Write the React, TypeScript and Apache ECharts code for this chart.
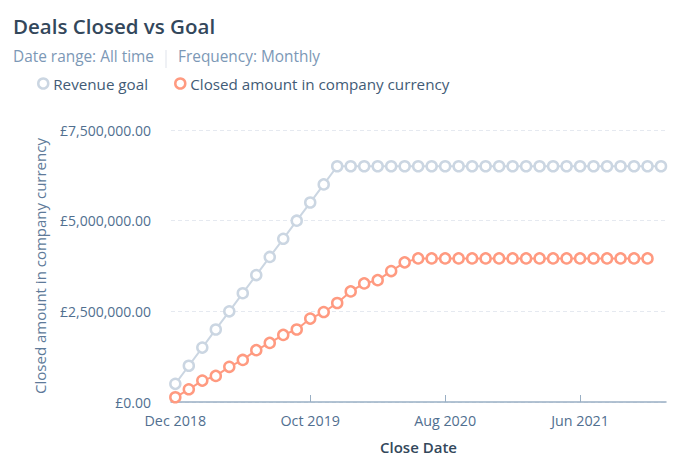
import React, { useEffect, useRef } from "react";
import * as echarts from "echarts";

const months = [
  "Dec 2018", "Jan 2019", "Feb 2019", "Mar 2019", "Apr 2019", "May 2019", "Jun 2019", "Jul 2019", "Aug 2019", "Sep 2019",
  "Oct 2019", "Nov 2019", "Dec 2019", "Jan 2020", "Feb 2020", "Mar 2020", "Apr 2020", "May 2020", "Jun 2020", "Jul 2020",
  "Aug 2020", "Sep 2020", "Oct 2020", "Nov 2020", "Dec 2020", "Jan 2021", "Feb 2021", "Mar 2021", "Apr 2021", "May 2021",
  "Jun 2021", "Jul 2021", "Aug 2021", "Sep 2021", "Oct 2021", "Nov 2021", "Dec 2021",
];

const revenueGoal = [
  500000, 1000000, 1500000, 2000000, 2500000, 3000000, 3500000, 4000000, 4500000, 5000000,
  5500000, 6000000, 6500000, 6500000, 6500000, 6500000, 6500000, 6500000, 6500000, 6500000,
  6500000, 6500000, 6500000, 6500000, 6500000, 6500000, 6500000, 6500000, 6500000, 6500000,
  6500000, 6500000, 6500000, 6500000, 6500000, 6500000, 6500000,
];

const closedAmount = [
  130000, 350000, 590000, 720000, 970000, 1160000, 1430000, 1630000, 1850000, 2000000,
  2300000, 2480000, 2730000, 3050000, 3270000, 3360000, 3610000, 3850000, 3960000, 3960000,
  3960000, 3960000, 3960000, 3960000, 3960000, 3960000, 3960000, 3960000, 3960000, 3960000,
  3960000, 3960000, 3960000, 3960000, 3960000, 3960000,
];

const xLabelIndexes = [0, 10, 20, 30];
const yTicks = { min: 0, max: 7500000, interval: 2500000 };

const FONT = "'Open Sans', sans-serif";
const GOAL_COLOR = "#cbd6e2";
const CLOSED_COLOR = "#ff9a80";

function fmtMoney(v: number): string {
  const s = Math.round(v).toString().replace(/\B(?=(\d{3})+(?!\d))/g, ",");
  return "£" + s + ".00";
}

export default function App() {
  const ref = useRef<HTMLDivElement>(null);
  useEffect(() => {
    if (!ref.current) return;
    const chart = echarts.init(ref.current, null, { renderer: "svg" });
    chart.setOption({
      animation: false,
      backgroundColor: "#ffffff",
      textStyle: { fontFamily: FONT },
      graphic: [
        {
          type: "text",
          left: 13,
          top: 15,
          style: { text: "Deals Closed vs Goal", fontSize: 20.5, fontWeight: 600, fill: "#33475b", fontFamily: FONT },
        },
        {
          type: "text",
          left: 13,
          top: 49,
          style: { text: "Date range: All time", fontSize: 15.4, fill: "#7c98b6", fontFamily: FONT },
        },
        {
          type: "line",
          shape: { x1: 166, y1: 50, x2: 166, y2: 68 },
          style: { stroke: "#dfe3eb", lineWidth: 1 },
        },
        {
          type: "text",
          left: 178,
          top: 49,
          style: { text: "Frequency: Monthly", fontSize: 15.4, fill: "#7c98b6", fontFamily: FONT },
        },
      ],
      legend: {
        left: 32,
        top: 71,
        icon: "circle",
        itemWidth: 10,
        itemHeight: 10,
        itemGap: 26,
        textStyle: { fontSize: 15.2, color: "#425b76", fontFamily: FONT, padding: [0, 0, 0, 0] },
        data: [
          { name: "Revenue goal", itemStyle: { color: "#fff", borderColor: GOAL_COLOR, borderWidth: 2.5 } },
          { name: "Closed amount in company currency", itemStyle: { color: "#fff", borderColor: CLOSED_COLOR, borderWidth: 2.5 } },
        ],
      },
      grid: { left: 171, right: 14, top: 130, bottom: 57 },
      xAxis: {
        type: "value",
        min: -0.32,
        max: 36.37,
        name: "Close Date",
        nameLocation: "middle",
        nameGap: 37,
        nameTextStyle: { fontSize: 15, fontWeight: 600, color: "#33475b", fontFamily: FONT },
        axisLine: { show: true, lineStyle: { color: "#99afc4", width: 1.5 } },
        axisTick: { show: true, inside: true, length: 7, lineStyle: { color: "#99afc4" }, customValues: xLabelIndexes },
        axisLabel: {
          customValues: xLabelIndexes,
          formatter: (v: number) => months[Math.round(v)] ?? "",
          color: "#516f90",
          fontSize: 14.3,
          margin: 11,
          fontFamily: FONT,
        },
        splitLine: { show: false },
      },
      yAxis: {
        type: "value",
        min: yTicks.min,
        max: yTicks.max,
        interval: yTicks.interval,
        name: "Closed amount in company currency",
        nameLocation: "middle",
        nameGap: 124,
        nameTextStyle: { fontSize: 15, color: "#5e7a99", fontFamily: FONT },
        axisLine: { show: false },
        axisTick: { show: false },
        axisLabel: { formatter: fmtMoney, color: "#516f90", fontSize: 14, margin: 20, fontFamily: FONT },
        splitLine: { show: true, lineStyle: { color: "#e5e9f0", type: [4, 3] } },
      },
      series: [
        {
          name: "Revenue goal",
          type: "line",
          data: revenueGoal.map((v, i) => [i, v]),
          symbol: "circle",
          symbolSize: 10,
          showAllSymbol: true,
          lineStyle: { color: GOAL_COLOR, width: 2 },
          itemStyle: { color: "#fff", borderColor: GOAL_COLOR, borderWidth: 2.5 },
          z: 2,
        },
        {
          name: "Closed amount in company currency",
          type: "line",
          data: closedAmount.map((v, i) => [i, v]),
          symbol: "circle",
          symbolSize: 10,
          showAllSymbol: true,
          lineStyle: { color: CLOSED_COLOR, width: 2 },
          itemStyle: { color: "#fff", borderColor: CLOSED_COLOR, borderWidth: 2.5 },
          z: 3,
        },
      ],
    });
    return () => chart.dispose();
  }, []);
  return <div ref={ref} style={{ width: 680, height: 459, position: "absolute", left: 0, top: 0 }} />;
}
